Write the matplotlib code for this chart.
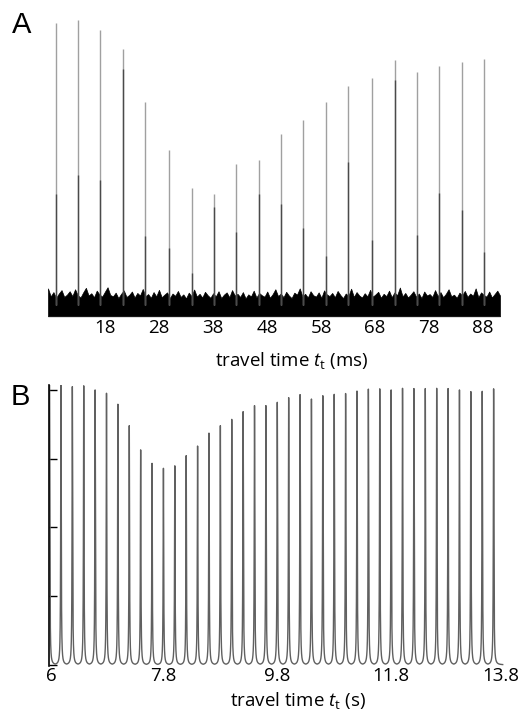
import numpy as np
import matplotlib
matplotlib.use("Agg")
import matplotlib.pyplot as plt
from matplotlib.transforms import ScaledTranslation

plt.rcParams['font.family'] = ['Open Sans', 'DejaVu Sans']
plt.rcParams['mathtext.fontset'] = 'custom'
plt.rcParams['mathtext.rm'] = 'Open Sans'
plt.rcParams['mathtext.it'] = 'Open Sans:italic'

# ---------------- Panel A data (travel time in ms) ----------------
A_spike_t = [8.87, 13.0, 17.13, 21.33, 25.46, 29.85, 34.06, 38.13, 42.31, 46.46,
             50.59, 54.72, 58.87, 63.06, 67.44, 71.65, 75.72, 79.85, 84.06, 88.19]
A_spike_h = [0.991, 1.0, 0.967, 0.898, 0.711, 0.544, 0.409, 0.389, 0.494, 0.509,
             0.601, 0.649, 0.712, 0.767, 0.798, 0.860, 0.819, 0.840, 0.854, 0.863]
A_inner_h = [0.389, 0.456, 0.439, 0.828, 0.242, 0.200, 0.112, 0.345, 0.257, 0.389,
             0.354, 0.269, 0.173, 0.503, 0.228, 0.789, 0.246, 0.394, 0.333, 0.185]
A_ticks = [18, 28, 38, 48, 58, 68, 78, 88]
A_noise_up = [
    0.058, 0.030, 0.045, 0.025, 0.040, 0.052, 0.028, 0.036, 0.048, 0.031, 0.055, 0.034,
    0.026, 0.044, 0.060, 0.033, 0.041, 0.027, 0.050, 0.037, 0.029, 0.046, 0.062, 0.035,
    0.030, 0.043, 0.024, 0.039, 0.051, 0.028, 0.035, 0.047, 0.026, 0.042, 0.033, 0.056,
    0.031, 0.038, 0.025, 0.045, 0.030, 0.053, 0.027, 0.036, 0.044, 0.024, 0.040, 0.032,
    0.049, 0.028, 0.037, 0.023, 0.043, 0.031, 0.054, 0.029, 0.039, 0.026, 0.046, 0.034,
    0.025, 0.041, 0.030, 0.048, 0.024, 0.036, 0.044, 0.027, 0.052, 0.033, 0.039, 0.028,
    0.045, 0.023, 0.037, 0.030, 0.050, 0.026, 0.042, 0.034, 0.029, 0.047, 0.025, 0.038,
    0.055, 0.031, 0.040, 0.027, 0.046, 0.033, 0.024, 0.043, 0.036, 0.058, 0.030, 0.039,
    0.026, 0.048, 0.034, 0.029, 0.044, 0.025, 0.051, 0.037, 0.031, 0.042, 0.027, 0.049,
    0.035, 0.024, 0.040, 0.032, 0.057, 0.028, 0.045, 0.033, 0.026, 0.041, 0.030, 0.053,
    0.029, 0.037, 0.046, 0.025, 0.039, 0.031, 0.050, 0.027, 0.044, 0.034, 0.061, 0.030,
    0.042, 0.026, 0.036, 0.048, 0.029, 0.040, 0.024, 0.047, 0.033, 0.038, 0.028, 0.052,
    0.031, 0.045, 0.027, 0.039, 0.055, 0.030, 0.036, 0.025, 0.043, 0.034, 0.049, 0.028,
    0.040, 0.032, 0.058, 0.027, 0.044, 0.035, 0.029, 0.047, 0.026, 0.038, 0.050, 0.033]
A_noise_low = -0.040
A_xlim = (7.44, 91.15)

# ---------------- Panel B data (travel time in s) ----------------
B_spike_t = [5.8, 6.0, 6.2, 6.4, 6.6, 6.8, 7.0, 7.2, 7.4, 7.6,
             7.8, 8.0, 8.2, 8.4, 8.6, 8.8, 9.0, 9.2, 9.4, 9.6,
             9.8, 10.0, 10.2, 10.4, 10.6, 10.8, 11.0, 11.2, 11.4, 11.6,
             11.8, 12.0, 12.2, 12.4, 12.6, 12.8, 13.0, 13.2, 13.4, 13.6]
B_spike_h = [1.018, 1.018, 1.012, 1.015, 1.0, 0.988, 0.948, 0.870, 0.782, 0.733,
             0.715, 0.724, 0.761, 0.796, 0.843, 0.870, 0.893, 0.921, 0.943, 0.943,
             0.955, 0.972, 0.983, 0.967, 0.979, 0.984, 0.987, 0.996, 1.003, 1.004,
             1.0, 1.006, 1.005, 1.005, 1.006, 1.005, 1.0, 0.994, 0.995, 1.004]
B_ticks = [6, 7.8, 9.8, 11.8, 13.8]
B_ticklabels = ['6', '7.8', '9.8', '11.8', '13.8']
B_xlim = (5.79, 13.8)
B_end = 13.76

W, H = 521, 711
fig = plt.figure(figsize=(W / 100, H / 100), dpi=100)

def frac(l, t, r, b):
    return [l / W, 1 - b / H, (r - l) / W, (b - t) / H]

FS = 13.5

# ---------------- Panel A ----------------
axA = fig.add_axes(frac(48, 15, 500, 318))
nx = np.linspace(A_xlim[0], A_xlim[1], len(A_noise_up))
axA.fill_between(nx, A_noise_low, A_noise_up, color='black', lw=0.5, edgecolor='black')
axA.vlines(A_spike_t, 0, A_spike_h, color='#a0a0a0', lw=1.0)
axA.vlines(A_spike_t, 0, A_inner_h, color='#4a4a4a', lw=1.0)
axA.set_xlim(*A_xlim)
axA.set_ylim(-0.046, 1.018)
for s in axA.spines.values():
    s.set_visible(False)
axA.set_yticks([])
axA.set_xticks(A_ticks)
axA.tick_params(axis='x', length=0, pad=1, labelsize=FS)
axA.set_xlabel(r'travel time $t_{\mathrm{t}}$ (ms)', fontsize=FS)
axA.xaxis.set_label_coords(0.538, -0.105)

# ---------------- Panel B ----------------
axB = fig.add_axes(frac(49, 385, 505, 666))
t = np.arange(B_xlim[0] + 0.01, B_end, 0.0005)
sig = np.zeros_like(t)
for tt, hh in zip(B_spike_t, B_spike_h):
    sig = np.maximum(sig, hh / (1 + ((t - tt) / 0.0055) ** 2))
axB.plot(t, sig, color='#606060', lw=1.0)
axB.set_xlim(*B_xlim)
axB.set_ylim(-0.004, 1.018)
for k in ('top', 'right', 'bottom'):
    axB.spines[k].set_visible(False)
axB.spines['left'].set_linewidth(1.2)
axB.set_yticks([0, 0.25, 0.5, 0.75, 1.0])
axB.set_yticklabels([])
axB.tick_params(axis='y', direction='in', length=5.5, width=1.0)
axB.set_xticks(B_ticks)
axB.set_xticklabels(B_ticklabels)
axB.tick_params(axis='x', length=0, pad=1, labelsize=FS)
labs = axB.get_xticklabels()
labs[0].set_transform(labs[0].get_transform() + ScaledTranslation(-0.10, 0, fig.dpi_scale_trans))
labs[-1].set_transform(labs[-1].get_transform() + ScaledTranslation(-0.04, 0, fig.dpi_scale_trans))
axB.set_xlabel(r'travel time $t_{\mathrm{t}}$ (s)', fontsize=FS)
axB.xaxis.set_label_coords(0.546, -0.085)

fig.text(22 / W, 1 - 25 / H, 'A', fontsize=21, family=['Liberation Sans'], ha='center', va='center')
fig.text(20 / W, 1 - 397 / H, 'B', fontsize=21, family=['Liberation Sans'], ha='center', va='center')

fig.savefig('out.png', dpi=100)
